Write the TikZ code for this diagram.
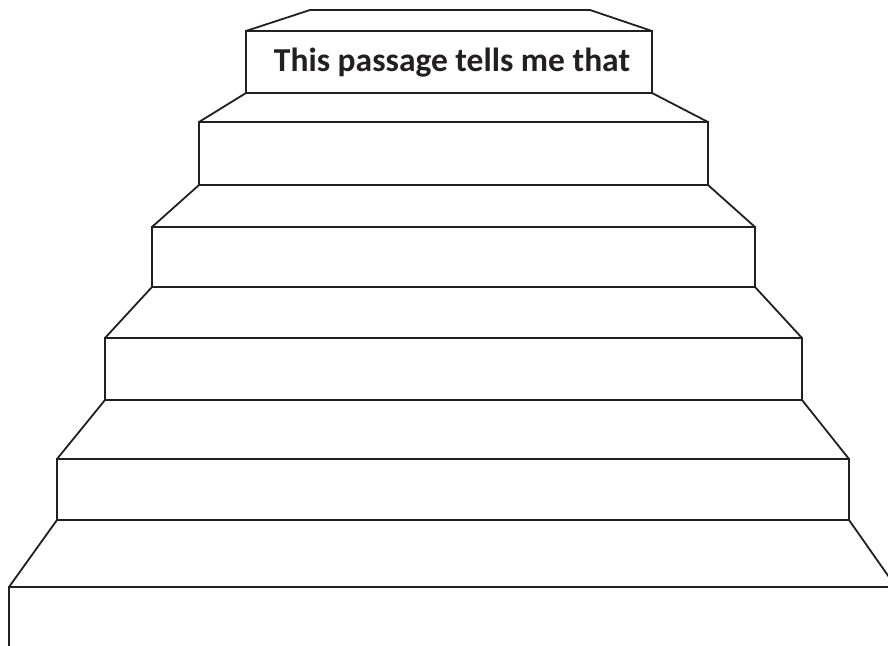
\documentclass[tikz,border=0pt]{standalone}
\usepackage{fontspec}
\setmainfont{Carlito}
\usetikzlibrary{positioning}
\definecolor{stairink}{RGB}{35,31,32}
\tikzset{
  riser/.style={draw=stairink, line width=1.8pt},
  tread/.style={draw=stairink, line width=1.8pt, line join=miter},
}
\begin{document}
\begin{tikzpicture}[x=1pt, y=-1pt]
    \useasboundingbox (0,0) rectangle (888,645);
    \clip (0,0) rectangle (888,645);

    % Top landing
    \draw[tread] (246,31) -- (310,10) -- (590,10) -- (652,31);

    % Risers
    \foreach \xl/\xr/\yt/\yb in {246/652/31/93, 199/708/122/185, 152/755/227/287, 105/802/338/400, 57/849/459/520, 9/896/587/660} {
        \draw[riser] (\xl,\yt) rectangle (\xr,\yb);
    }

    % Treads: bottom corners of one riser to top corners of the next
    \foreach \xl/\xr/\yb/\nxl/\nxr/\nyt in {246/652/93/199/708/122, 199/708/185/152/755/227, 152/755/287/105/802/338, 105/802/400/57/849/459, 57/849/520/9/896/587} {
        \draw[tread] (\xl,\yb) -- (\nxl,\nyt);
        \draw[tread] (\xr,\yb) -- (\nxr,\nyt);
    }

    % Label on the top step
    \node[font=\fontsize{33.5}{40}\selectfont\bfseries, text=stairink, anchor=base] (title) at (452,71) {This passage tells me that};
\end{tikzpicture}
\end{document}
